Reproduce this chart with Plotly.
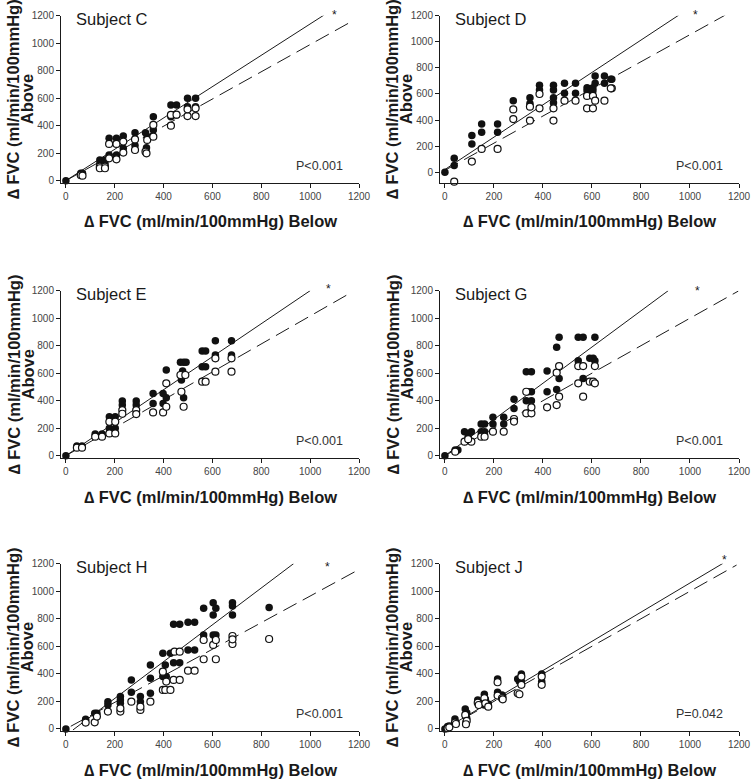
import numpy as np
import plotly.graph_objects as go

# ---------------- data ----------------
subjects = ["Subject C", "Subject D", "Subject E", "Subject G", "Subject H", "Subject J"]
p_labels = ["P<0.001", "P<0.001", "P<0.001", "P<0.001", "P<0.001", "P=0.042"]
tick_vals = [0, 200, 400, 600, 800, 1000, 1200]

C_fx = [0, 61, 68, 139, 160, 139, 160, 177, 177, 207, 207, 235, 235, 283, 283, 326, 330, 333, 358, 358, 430, 430, 453, 453, 498, 498, 531, 531]
C_fy = [0, 53, 53, 150, 150, 125, 125, 308, 187, 308, 187, 325, 235, 349, 255, 349, 240, 320, 465, 368, 550, 465, 550, 477, 599, 538, 599, 538]
C_ox = [61, 68, 139, 160, 139, 160, 177, 177, 207, 207, 235, 235, 283, 283, 326, 330, 333, 358, 358, 430, 430, 453, 498, 498, 531, 531]
C_oy = [40, 36, 102, 102, 90, 90, 267, 162, 267, 155, 284, 204, 300, 223, 211, 199, 296, 405, 320, 478, 400, 480, 470, 519, 470, 526]

D_fx = [0, 38, 38, 110, 110, 150, 150, 215, 215, 279, 347, 347, 386, 386, 443, 443, 443, 443, 488, 488, 533, 533, 580, 580, 604, 604, 613, 613, 651, 651, 681, 677]
D_fy = [0, 107, 51, 281, 217, 370, 306, 370, 306, 549, 572, 528, 666, 631, 666, 631, 572, 533, 682, 605, 682, 605, 648, 625, 648, 625, 738, 682, 738, 682, 712, 712]
D_ox = [38, 110, 150, 215, 279, 279, 347, 347, 386, 386, 443, 443, 488, 533, 580, 580, 604, 604, 613, 651, 681, 677]
D_oy = [-72, 82, 179, 179, 408, 482, 503, 396, 600, 490, 396, 490, 549, 549, 585, 490, 585, 490, 549, 549, 643, 643]

E_fx = [0, 45, 66, 120, 148, 178, 178, 202, 202, 231, 231, 288, 288, 357, 357, 398, 398, 411, 411, 469, 482, 492, 478, 473, 482, 558, 572, 558, 572, 612, 612, 678, 678]
E_fy = [0, 70, 70, 158, 158, 284, 199, 284, 199, 398, 368, 398, 368, 453, 380, 453, 380, 623, 422, 679, 679, 679, 616, 550, 422, 761, 761, 647, 647, 836, 732, 836, 732]
E_ox = [45, 66, 120, 148, 178, 178, 202, 202, 231, 231, 288, 288, 357, 398, 411, 411, 469, 489, 473, 482, 558, 572, 612, 612, 678, 678]
E_oy = [58, 58, 138, 138, 247, 162, 247, 162, 332, 305, 332, 303, 315, 315, 526, 356, 587, 587, 465, 356, 538, 538, 611, 708, 611, 708]

G_fx = [0, 42, 53, 80, 108, 95, 148, 162, 148, 162, 196, 196, 240, 240, 282, 282, 332, 353, 339, 353, 332, 353, 417, 417, 456, 466, 466, 456, 544, 564, 544, 564, 612, 591, 605, 612]
G_fy = [0, 41, 41, 175, 175, 138, 230, 230, 175, 175, 279, 230, 279, 230, 410, 344, 611, 611, 465, 465, 400, 400, 616, 465, 788, 861, 562, 482, 861, 861, 691, 562, 861, 708, 708, 691]
G_ox = [42, 80, 108, 95, 148, 162, 196, 240, 282, 282, 332, 353, 332, 353, 417, 456, 456, 466, 466, 544, 564, 544, 564, 591, 605, 612, 612]
G_oy = [29, 102, 102, 120, 138, 138, 175, 175, 267, 248, 308, 308, 465, 352, 352, 368, 604, 652, 429, 652, 652, 526, 429, 538, 538, 526, 652]

H_fx = [0, 81, 118, 127, 172, 172, 223, 223, 223, 268, 268, 305, 305, 346, 346, 346, 397, 407, 397, 411, 428, 441, 466, 441, 466, 500, 527, 500, 527, 564, 603, 603, 614, 614, 564, 603, 682, 682, 682, 832]
H_fy = [0, 70, 114, 114, 198, 174, 235, 210, 186, 356, 266, 235, 198, 465, 368, 259, 549, 465, 380, 380, 549, 760, 760, 481, 481, 573, 573, 774, 774, 876, 917, 827, 876, 682, 682, 682, 917, 893, 827, 881]
H_ox = [81, 118, 127, 172, 223, 223, 268, 305, 305, 346, 397, 407, 397, 411, 428, 441, 466, 445, 466, 500, 527, 564, 564, 603, 614, 614, 682, 682, 682, 832]
H_oy = [46, 48, 90, 126, 126, 150, 198, 138, 162, 198, 283, 283, 416, 344, 283, 356, 356, 561, 561, 423, 423, 506, 646, 610, 646, 506, 617, 675, 651, 653]

J_fx = [0, 11, 18, 41, 45, 83, 89, 89, 86, 134, 138, 161, 165, 161, 177, 215, 215, 233, 236, 297, 304, 312, 312, 395, 395]
J_fy = [0, 17, 22, 73, 46, 145, 118, 77, 46, 210, 186, 252, 215, 174, 181, 363, 266, 247, 235, 363, 344, 399, 344, 399, 344]
J_ox = [11, 18, 41, 45, 83, 89, 86, 134, 138, 161, 165, 177, 215, 215, 233, 236, 297, 304, 312, 312, 395, 395]
J_oy = [5, 12, 46, 36, 102, 58, 34, 191, 174, 223, 186, 162, 339, 242, 223, 215, 259, 252, 320, 380, 320, 380]

# regression lines (slope, intercept, x start, x end)
solid_slope = [1.14, 1.24, 1.20, 1.317, 1.337, 1.06]
solid_icpt = [0, 21, 0, 0, -46, 0]
solid_x0 = [0, 0, 0, 0, 29, 0]
solid_x1 = [1057, 954, 1000, 911, 933, 1135]
dash_slope = [0.99, 1.04, 1.016, 1.0, 0.965, 1.0]
dash_icpt = [0, 15, 0, 0, 0, 0]
dash_x0 = [0, 0, 0, 0, 20, 0]
dash_x1 = [1180, 1144, 1166, 1197, 1201, 1190]

star_x = [1100, 1022, 1074, 1031, 1071, 1142]
star_y = [1205, 1205, 1210, 1200, 1178, 1225]

y_min = [-15, -80, -19, -19, -15, -15]
x_range = [-20, 1200]

filled_x = [C_fx, D_fx, E_fx, G_fx, H_fx, J_fx]
filled_y = [C_fy, D_fy, E_fy, G_fy, H_fy, J_fy]
open_x = [C_ox, D_ox, E_ox, G_ox, H_ox, J_ox]
open_y = [C_oy, D_oy, E_oy, G_oy, H_oy, J_oy]

# ---------------- layout geometry ----------------
W, H = 751, 781
col_px = [(61, 359), (440, 739)]
row_px = [(15.7, 182.7), (290.7, 458.3), (563.7, 731.0)]


def px(x):
    return x / W


def py(y):
    return 1 - y / H


FONT = "Liberation Sans, Arial, Helvetica, sans-serif"
INK = "#1a1a1a"

fig = go.Figure()
layout = dict(
    template="none",
    width=W, height=H, margin=dict(l=0, r=0, t=0, b=0, pad=0, autoexpand=False),
    paper_bgcolor="white", plot_bgcolor="white", showlegend=False,
    font=dict(family=FONT, color=INK),
)
annotations = []

for i in range(6):
    r, c = divmod(i, 2)
    xa = "x" if i == 0 else f"x{i+1}"
    ya = "y" if i == 0 else f"y{i+1}"
    xl = "xaxis" if i == 0 else f"xaxis{i+1}"
    yl = "yaxis" if i == 0 else f"yaxis{i+1}"
    (cx0, cx1), (ry0, ry1) = col_px[c], row_px[r]
    xdom = [px(cx0), px(cx1)]
    ydom = [py(ry1), py(ry0)]
    yrng = [y_min[i], 1200]
    common = dict(showline=True, linecolor=INK, linewidth=1, ticks="outside", ticklen=4,
                  tickwidth=1, tickcolor=INK, showgrid=False, zeroline=False, automargin=False,
                  tickvals=tick_vals, tickfont=dict(size=10, color="#444444", family=FONT))
    layout[xl] = dict(common, domain=xdom, range=x_range, anchor=ya)
    layout[yl] = dict(common, domain=ydom, range=yrng, anchor=xa)

    # regression lines
    sx = np.array([solid_x0[i], solid_x1[i]], dtype=float)
    fig.add_trace(go.Scatter(x=sx, y=solid_slope[i] * sx + solid_icpt[i], mode="lines",
                             line=dict(color=INK, width=1), xaxis=xa, yaxis=ya))
    dx = np.array([dash_x0[i], dash_x1[i]], dtype=float)
    fig.add_trace(go.Scatter(x=dx, y=dash_slope[i] * dx + dash_icpt[i], mode="lines",
                             line=dict(color=INK, width=1, dash="15px,7px"), xaxis=xa, yaxis=ya))
    # points
    fig.add_trace(go.Scatter(x=filled_x[i], y=filled_y[i], mode="markers", cliponaxis=False,
                             marker=dict(size=7.5, color="#111111", line=dict(width=0)),
                             xaxis=xa, yaxis=ya))
    fig.add_trace(go.Scatter(x=open_x[i], y=open_y[i], mode="markers", cliponaxis=False,
                             marker=dict(size=7, color="white", line=dict(width=1.2, color="#111111")),
                             xaxis=xa, yaxis=ya))

    # significance asterisk: data position mapped through the axis scale to paper space
    sxp = xdom[0] + (star_x[i] - x_range[0]) / (x_range[1] - x_range[0]) * (xdom[1] - xdom[0])
    syp = ydom[0] + (star_y[i] - yrng[0]) / (yrng[1] - yrng[0]) * (ydom[1] - ydom[0])
    annotations.append(dict(x=sxp, y=syp, xref="paper", yref="paper", text="*", showarrow=False,
                            xanchor="center", yanchor="middle", font=dict(size=12, color=INK)))

    # texts
    annotations.append(dict(x=px(cx0 + 13), y=py(ry0 + 3), xref="paper", yref="paper",
                            text=subjects[i], showarrow=False, xanchor="left", yanchor="middle",
                            font=dict(size=16.5, color=INK)))
    annotations.append(dict(x=px(cx1 - 14), y=py(ry1 - 17), xref="paper", yref="paper",
                            text=p_labels[i], showarrow=False, xanchor="right", yanchor="middle",
                            font=dict(size=12.5, color="#333333")))
    annotations.append(dict(x=px((cx0 + cx1) / 2), y=py(ry1 + 38.5), xref="paper", yref="paper",
                            text="<b>∆ FVC (ml/min/100mmHg) Below</b>", showarrow=False,
                            xanchor="center", yanchor="middle", font=dict(size=16.5, color=INK)))
    ycen = (ry0 + ry1) / 2
    annotations.append(dict(x=px(cx0 - 48), y=py(ycen), xref="paper", yref="paper",
                            text="<b>∆ FVC (ml/min/100mmHg)</b>", showarrow=False, textangle=-90,
                            xanchor="center", yanchor="middle", font=dict(size=16.5, color=INK)))
    annotations.append(dict(x=px(cx0 - 34), y=py(ycen), xref="paper", yref="paper",
                            text="<b>Above</b>", showarrow=False, textangle=-90,
                            xanchor="center", yanchor="middle", font=dict(size=16.5, color=INK)))

layout["annotations"] = annotations
fig.update_layout(**layout)
fig.write_html("out.html", config={"displayModeBar": False},
               post_script="document.body.style.margin='0px';document.body.style.overflow='hidden';")
